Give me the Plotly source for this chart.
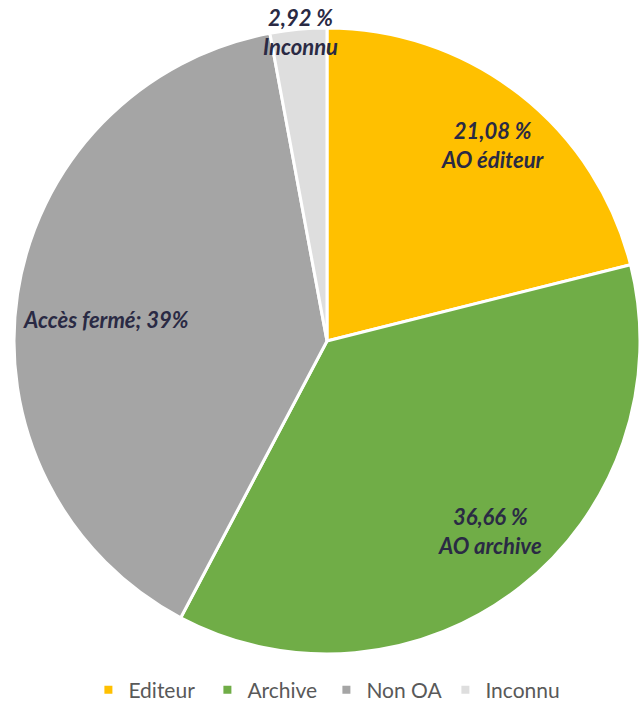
import math
import plotly.graph_objects as go

# slices, clockwise from 12 o'clock
categories = ['Editeur', 'Archive', 'Non OA', 'Inconnu']
shares = [21.08, 36.66, 39.34, 2.92]
slice_labels = ['21,08 %<br>AO éditeur', '36,66 %<br>AO archive',
                'Accès fermé; 39%', '2,92 %<br>Inconnu']
colors = ['#FFC000', '#70AD47', '#A5A5A5', '#DEDEDE']

W, H = 640, 702
dom_x = [14 / W, 1.0]
dom_y = [1 - 654 / H, 1 - 28 / H]

fig = go.Figure(go.Pie(
    labels=categories,
    values=shares,
    sort=False,
    direction='clockwise',
    rotation=0,
    textinfo='none',
    hoverinfo='label+percent',
    showlegend=False,
    marker=dict(colors=colors, line=dict(color='white', width=3)),
    domain=dict(x=dom_x, y=dom_y),
))

# legend with small square swatches
for name, c in zip(categories, colors):
    fig.add_trace(go.Scatter(x=[None], y=[None], mode='markers', name=name,
                             marker=dict(symbol='square', size=8, color=c)))

# slice labels placed along each slice's bisector
cx = (dom_x[0] + dom_x[1]) / 2 * W
cy = (1 - (dom_y[0] + dom_y[1]) / 2) * H
R = min((dom_x[1] - dom_x[0]) * W, (dom_y[1] - dom_y[0]) * H) / 2
radial = [0.82, 0.80, 0.71, 0.99]
shift = [2.4, -2.4, -3.2, 0.3]  # degrees
total = sum(shares)
cum = 0
for lab, v, f, s in zip(slice_labels, shares, radial, shift):
    mid = (cum + v / 2) / total * 2 * math.pi + math.radians(s)
    cum += v
    px = cx + f * R * math.sin(mid)
    py = cy - f * R * math.cos(mid)
    fig.add_annotation(
        x=px / W, y=1 - py / H, xref='paper', yref='paper',
        xanchor='center', yanchor='middle',
        text=lab, showarrow=False, align='center',
        font=dict(family='Lato', size=22, color='#2A2A44', weight='bold', style='italic'),
    )

fig.update_layout(
    width=W, height=H,
    margin=dict(l=0, r=0, t=0, b=0, autoexpand=False),
    paper_bgcolor='white',
    plot_bgcolor='white',
    xaxis=dict(visible=False),
    yaxis=dict(visible=False),
    font=dict(family='Lato', size=21, color='#595959'),
    legend=dict(orientation='h', x=0.51, xanchor='center', y=1 - 690 / H, yanchor='middle',
                traceorder='normal', entrywidth=74),
)

fig.write_html('out.html', config={'displayModeBar': False},
               post_script="document.body.style.margin='0';")
